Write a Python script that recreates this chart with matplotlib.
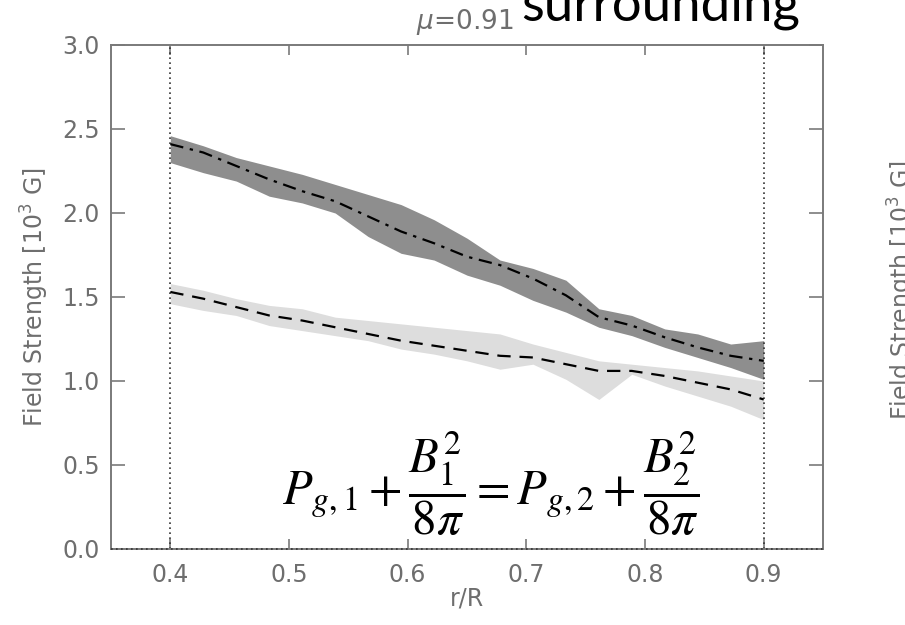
import numpy as np
import matplotlib
matplotlib.use("Agg")
import matplotlib.pyplot as plt

# radial positions r/R (19 samples between 0.4 and 0.9)
r = np.linspace(0.4, 0.9, 19)

# strong-field component: mean and spread envelope [10^3 G]
strong_mean = [2.41, 2.36, 2.28, 2.20, 2.13, 2.07, 1.98, 1.89, 1.82, 1.74,
               1.69, 1.61, 1.51, 1.38, 1.33, 1.26, 1.20, 1.15, 1.12]
strong_hi = [2.46, 2.40, 2.33, 2.28, 2.23, 2.17, 2.11, 2.05, 1.96, 1.85,
             1.72, 1.67, 1.60, 1.43, 1.39, 1.31, 1.28, 1.22, 1.24]
strong_lo = [2.30, 2.24, 2.19, 2.10, 2.06, 2.00, 1.86, 1.76, 1.72, 1.63,
             1.57, 1.48, 1.41, 1.32, 1.27, 1.20, 1.14, 1.08, 1.01]

# weak-field (surrounding) component
weak_mean = [1.53, 1.49, 1.44, 1.39, 1.36, 1.32, 1.28, 1.24, 1.21, 1.18,
             1.15, 1.14, 1.10, 1.06, 1.06, 1.03, 0.99, 0.95, 0.89]
weak_hi = [1.58, 1.54, 1.49, 1.45, 1.43, 1.38, 1.36, 1.34, 1.32, 1.30,
           1.28, 1.22, 1.17, 1.12, 1.10, 1.08, 1.06, 1.03, 1.00]
weak_lo = [1.46, 1.42, 1.39, 1.33, 1.30, 1.27, 1.24, 1.19, 1.16, 1.12,
           1.07, 1.10, 1.01, 0.89, 1.04, 0.97, 0.91, 0.85, 0.77]

xticks = [0.4, 0.5, 0.6, 0.7, 0.8, 0.9]
yticks = [0.0, 0.5, 1.0, 1.5, 2.0, 2.5, 3.0]

W, H = 905, 625
fig = plt.figure(figsize=(W / 100, H / 100), dpi=100)
ax = fig.add_axes([111 / W, 1 - 549 / H, (823 - 111) / W, (549 - 45) / H])

grey = "#7a7a7a"
txt_grey = "#6e6e6e"

ax.fill_between(r, strong_lo, strong_hi, color="#8e8e8e", lw=0, zorder=1)
ax.fill_between(r, weak_lo, weak_hi, color="#dddddd", lw=0, zorder=1)
ax.plot(r, strong_mean, color="black", lw=1.6, dashes=(6, 3, 1.5, 3), zorder=3)
ax.plot(r, weak_mean, color="black", lw=1.6, dashes=(6, 4), zorder=3)

# limits of the radial range
for xv in (0.4, 0.9):
    ax.axvline(xv, color="#333333", lw=1.2, ls=(0, (1, 2)), zorder=2)
ax.axhline(0.0, color="#333333", lw=1.2, ls=(0, (1, 2)), zorder=4, clip_on=False)

ax.set_xlim(0.35, 0.95)
ax.set_ylim(0, 3.0)
ax.set_xticks(xticks)
ax.set_yticks(yticks)
ax.set_xticklabels([f"{v:.1f}" for v in xticks])
ax.set_yticklabels([f"{v:.1f}" for v in yticks])

for s in ax.spines.values():
    s.set_color(grey)
    s.set_linewidth(1.4)
ax.tick_params(axis="both", direction="in", colors=grey, labelcolor=txt_grey,
               labelsize=17, width=1.2)
ax.tick_params(axis="y", length=10, right=True, pad=8)
ax.tick_params(axis="x", length=7, top=True, pad=10)

ax.set_xlabel("r/R", color=txt_grey, fontsize=17, labelpad=0)
ax.set_ylabel("Field Strength [10$^3$ G]", color=txt_grey, fontsize=17, labelpad=8)

fig.text(465 / W, 1 - 22 / H, r"$\mu$=0.91", color=txt_grey, fontsize=19,
         ha="center", va="center")

# neighbouring panel's axis label, cut by the figure edge
fig.text(902 / W, 1 - 290 / H, "Field Strength [10$^3$ G]", color=txt_grey,
         fontsize=17, rotation=90, ha="center", va="center")

fig.text(521 / W, 1 - 21 / H, "surrounding", family="Lato", fontsize=38,
         color="black", ha="left", va="baseline")

fig.text(491 / W, 1 - 484 / H,
         r"$P_{g,1}+\dfrac{B_1^2}{8\pi}=P_{g,2}+\dfrac{B_2^2}{8\pi}$",
         fontsize=35, color="black", ha="center", va="center",
         math_fontfamily="stix")

fig.savefig("out.png", dpi=100)
